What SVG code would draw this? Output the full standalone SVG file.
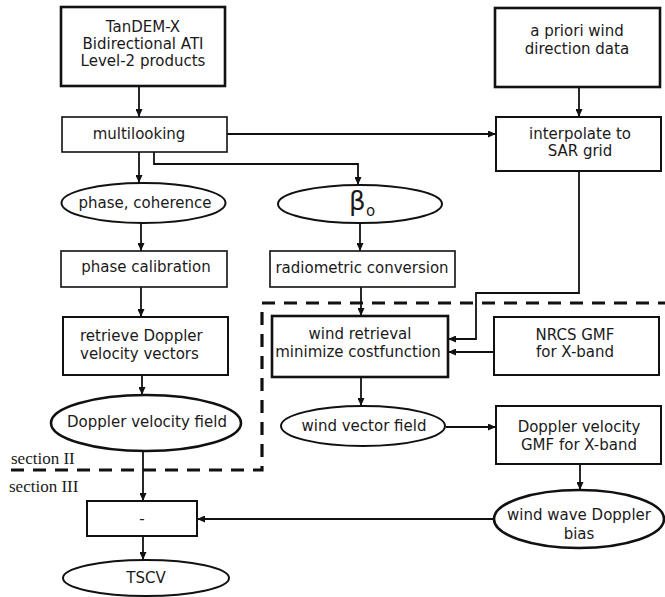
<svg xmlns="http://www.w3.org/2000/svg" width="665" height="597" viewBox="0 0 665 597">
<style>
.b{fill:#fff;stroke:#111;stroke-width:2}
.t{fill:#fff;stroke:#111;stroke-width:2.6}
.m{fill:#fff;stroke:#111;stroke-width:1.6}
.l{fill:#1a1a1a;font-family:"DejaVu Sans",sans-serif;font-size:15px;text-anchor:middle}
.s{fill:#1a1a1a;font-family:"Liberation Serif",serif;font-size:17px}
.c{fill:none;stroke:#111;stroke-width:1.8;marker-end:url(#a)}
</style>
<defs>
<marker id="a" markerUnits="userSpaceOnUse" markerWidth="9" markerHeight="7" refX="8" refY="3.5" orient="auto">
<path d="M0,0 L8,3.5 L0,7 z" fill="#111"/>
</marker>
</defs>
<rect width="665" height="597" fill="#fff"/>
<g id="sections">
<polyline points="11,470 262,470 262,303 665,303" fill="none" stroke="#111" stroke-width="3.2" stroke-dasharray="13,9"/>
<text class="s" x="11" y="464">section II</text>
<text class="s" x="9" y="492">section III</text>
</g>
<g id="connectors">
<path class="c" d="M139,86 V117"/>
<path class="c" d="M227,134 H496"/>
<path class="c" d="M154,152 V164 H358 V185"/>
<path class="c" d="M139,152 V183"/>
<path class="c" d="M579,87 V117"/>
<path class="c" d="M141,223 V251"/>
<path class="c" d="M141,287 V317"/>
<path class="c" d="M142,375 V395"/>
<path class="c" d="M143,452 V501"/>
<path class="c" d="M143,536 V560"/>
<path class="c" d="M360,223 V251"/>
<path class="c" d="M361,287 V316"/>
<path class="c" d="M579,171 V293 H476 V339 H448"/>
<path class="c" d="M494,352 H448"/>
<path class="c" d="M361,377 V406"/>
<path class="c" d="M446,427 H496"/>
<path class="c" d="M580,464 V490"/>
<path class="c" d="M493,519 H197"/>
</g>
<g id="tandem">
<rect class="t" x="61" y="7" width="164" height="79"/>
<text class="l" x="143" y="32">TanDEM-X</text>
<text class="l" x="143" y="49">Bidirectional ATI</text>
<text class="l" x="143" y="66">Level-2 products</text>
</g>
<g id="apriori">
<rect class="t" x="495" y="8" width="165" height="79"/>
<text class="l" x="577" y="36">a priori wind</text>
<text class="l" x="577" y="54">direction data</text>
</g>
<g id="multilooking">
<rect class="m" x="62" y="117" width="165" height="35"/>
<text class="l" x="139" y="139">multilooking</text>
</g>
<g id="interpolate">
<rect class="b" x="496" y="117" width="165" height="54"/>
<text class="l" x="580" y="139">interpolate to</text>
<text class="l" x="580" y="156">SAR grid</text>
</g>
<g id="phasecoh">
<ellipse class="b" cx="143.5" cy="203" rx="82" ry="20"/>
<text class="l" x="145" y="208">phase, coherence</text>
</g>
<g id="beta">
<ellipse class="b" cx="360" cy="204" rx="82" ry="19"/>
<text x="349" y="210" fill="#1a1a1a" font-family="DejaVu Sans,sans-serif" font-size="26">β</text>
<text x="366" y="216" fill="#1a1a1a" font-family="DejaVu Sans,sans-serif" font-size="15">o</text>
</g>
<g id="phasecal">
<rect class="m" x="61" y="251" width="166" height="36"/>
<text class="l" x="146" y="272">phase calibration</text>
</g>
<g id="radiometric">
<rect class="m" x="270" y="251" width="185" height="36"/>
<text class="l" x="362" y="273">radiometric conversion</text>
</g>
<g id="retrieve">
<rect class="b" x="63" y="317" width="165" height="58"/>
<text class="l" x="80" y="341" style="text-anchor:start">retrieve Doppler</text>
<text class="l" x="80" y="359" style="text-anchor:start">velocity vectors</text>
</g>
<g id="windretrieval">
<rect class="t" x="272" y="316" width="176" height="61"/>
<text class="l" x="360" y="339">wind retrieval</text>
<text class="l" x="358" y="357">minimize costfunction</text>
</g>
<g id="nrcs">
<rect class="b" x="494" y="317" width="165" height="58"/>
<text class="l" x="575" y="340">NRCS GMF</text>
<text class="l" x="575" y="357">for X-band</text>
</g>
<g id="dopplerfield">
<ellipse class="t" cx="146" cy="423" rx="95" ry="28"/>
<text class="l" x="147" y="427">Doppler velocity field</text>
</g>
<g id="windvector">
<ellipse class="b" cx="363" cy="426" rx="82" ry="20"/>
<text class="l" x="364" y="431">wind vector field</text>
</g>
<g id="dopplergmf">
<rect class="b" x="496" y="406" width="165" height="58"/>
<text class="l" x="579" y="432">Doppler velocity</text>
<text class="l" x="579" y="450">GMF for X-band</text>
</g>
<g id="bias">
<ellipse class="t" cx="579" cy="519" rx="85" ry="29"/>
<text class="l" x="579" y="520">wind wave Doppler</text>
<text class="l" x="579" y="539">bias</text>
</g>
<g id="minus">
<rect class="b" x="87" y="501" width="110" height="35"/>
<text class="l" x="142" y="524">-</text>
</g>
<g id="tscv">
<ellipse class="b" cx="146" cy="578" rx="83" ry="18"/>
<text class="l" x="146" y="583">TSCV</text>
</g>
</svg>
